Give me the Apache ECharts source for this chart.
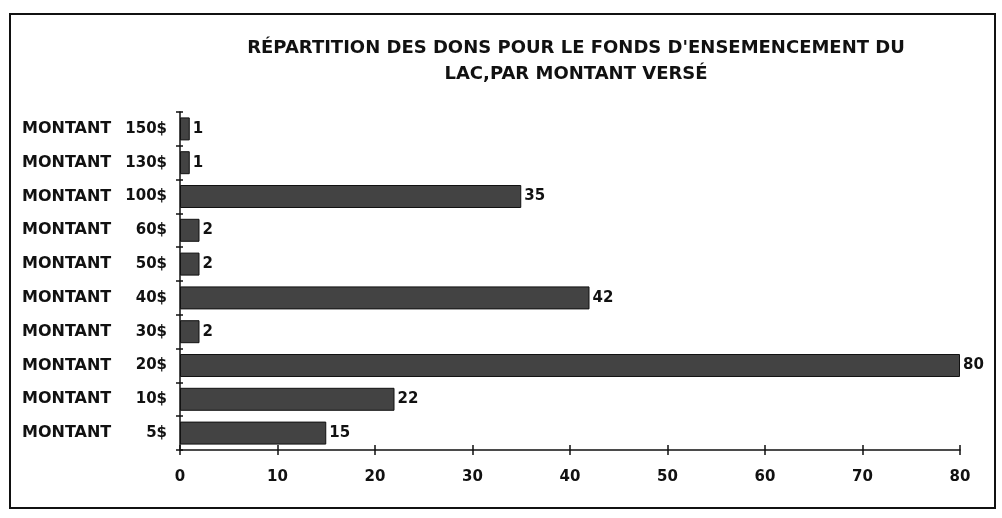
<!DOCTYPE html>
<html lang="fr">
<head>
  <meta charset="UTF-8">
  <title>Répartition des dons</title>
  <style>
    html, body { margin: 0; padding: 0; background: #fff; }
  </style>
</head>
<body>
  <div id="chart" style="width: 1002px; height: 518px;"></div>
  <script src="https://cdn.jsdelivr.net/npm/echarts@6/dist/echarts.min.js"></script>
  <script>
    // Data, top to bottom as in the picture
    const amounts = ['150$', '130$', '100$', '60$', '50$', '40$', '30$', '20$', '10$', '5$'];
    const donors = [1, 1, 35, 2, 2, 42, 2, 80, 22, 15];
    const xTicks = { min: 0, max: 80, interval: 10 };

    const font = '"DejaVu Sans", sans-serif';
    const chart = echarts.init(document.getElementById('chart'), null, { renderer: 'canvas' });

    const option = {
      backgroundColor: '#fff',
      animation: false,
      title: {
        text: "RÉPARTITION DES DONS POUR LE FONDS D'ENSEMENCEMENT DU\nLAC,PAR MONTANT VERSÉ",
        left: 571,
        top: 30,
        textAlign: 'center',
        textStyle: {
          fontFamily: font,
          fontWeight: 'bold',
          fontSize: 18,
          lineHeight: 26,
          color: '#111'
        }
      },
      graphic: [
        {
          type: 'rect',
          shape: { x: 10, y: 14, width: 985, height: 494 },
          style: { fill: null, stroke: '#111', lineWidth: 2 },
          silent: true
        }
      ],
      grid: { left: 180, right: 42, top: 112, bottom: 68 },
      xAxis: [
        {
          type: 'value',
          min: xTicks.min, max: xTicks.max, interval: xTicks.interval,
          splitLine: { show: false },
          axisLine: { show: true, lineStyle: { color: '#111', width: 1.5 } },
          axisTick: { show: true, length: 5, lineStyle: { color: '#111', width: 1.5 } },
          axisLabel: {
            margin: 20,
            fontFamily: font, fontWeight: 'bold', fontSize: 15, color: '#111'
          }
        },
        {
          type: 'value',
          position: 'bottom',
          min: xTicks.min, max: xTicks.max, interval: xTicks.interval,
          splitLine: { show: false },
          axisLine: { show: false },
          axisTick: { show: true, inside: true, length: 5, lineStyle: { color: '#111', width: 1.5 } },
          axisLabel: { show: false }
        }
      ],
      yAxis: [
        {
          type: 'category',
          data: amounts,
          inverse: true,
          axisLine: { show: true, lineStyle: { color: '#111', width: 1.5 } },
          axisTick: { show: true, length: 4, lineStyle: { color: '#111', width: 1.5 } },
          axisLabel: {
            margin: 13,
            formatter: (v) => '{m|MONTANT}{v|' + v + '}',
            rich: {
              m: { width: 100, align: 'left', fontFamily: font, fontWeight: 'bold', fontSize: 16, color: '#111' },
              v: { width: 45, align: 'right', fontFamily: font, fontWeight: 'bold', fontSize: 15, color: '#111' }
            }
          }
        },
        {
          type: 'category',
          data: amounts,
          inverse: true,
          position: 'left',
          axisLine: { show: false },
          axisTick: { show: true, inside: true, length: 3, lineStyle: { color: '#111', width: 1.5 } },
          axisLabel: { show: false }
        }
      ],
      series: [
        {
          type: 'bar',
          data: donors,
          barWidth: '68%',
          itemStyle: { color: '#434343', borderColor: '#111', borderWidth: 1 },
          label: {
            show: true,
            position: 'right',
            distance: 3,
            fontFamily: font,
            fontWeight: 'bold',
            fontSize: 15,
            color: '#111'
          }
        }
      ]
    };

    chart.setOption(option);
  </script>
</body>
</html>
